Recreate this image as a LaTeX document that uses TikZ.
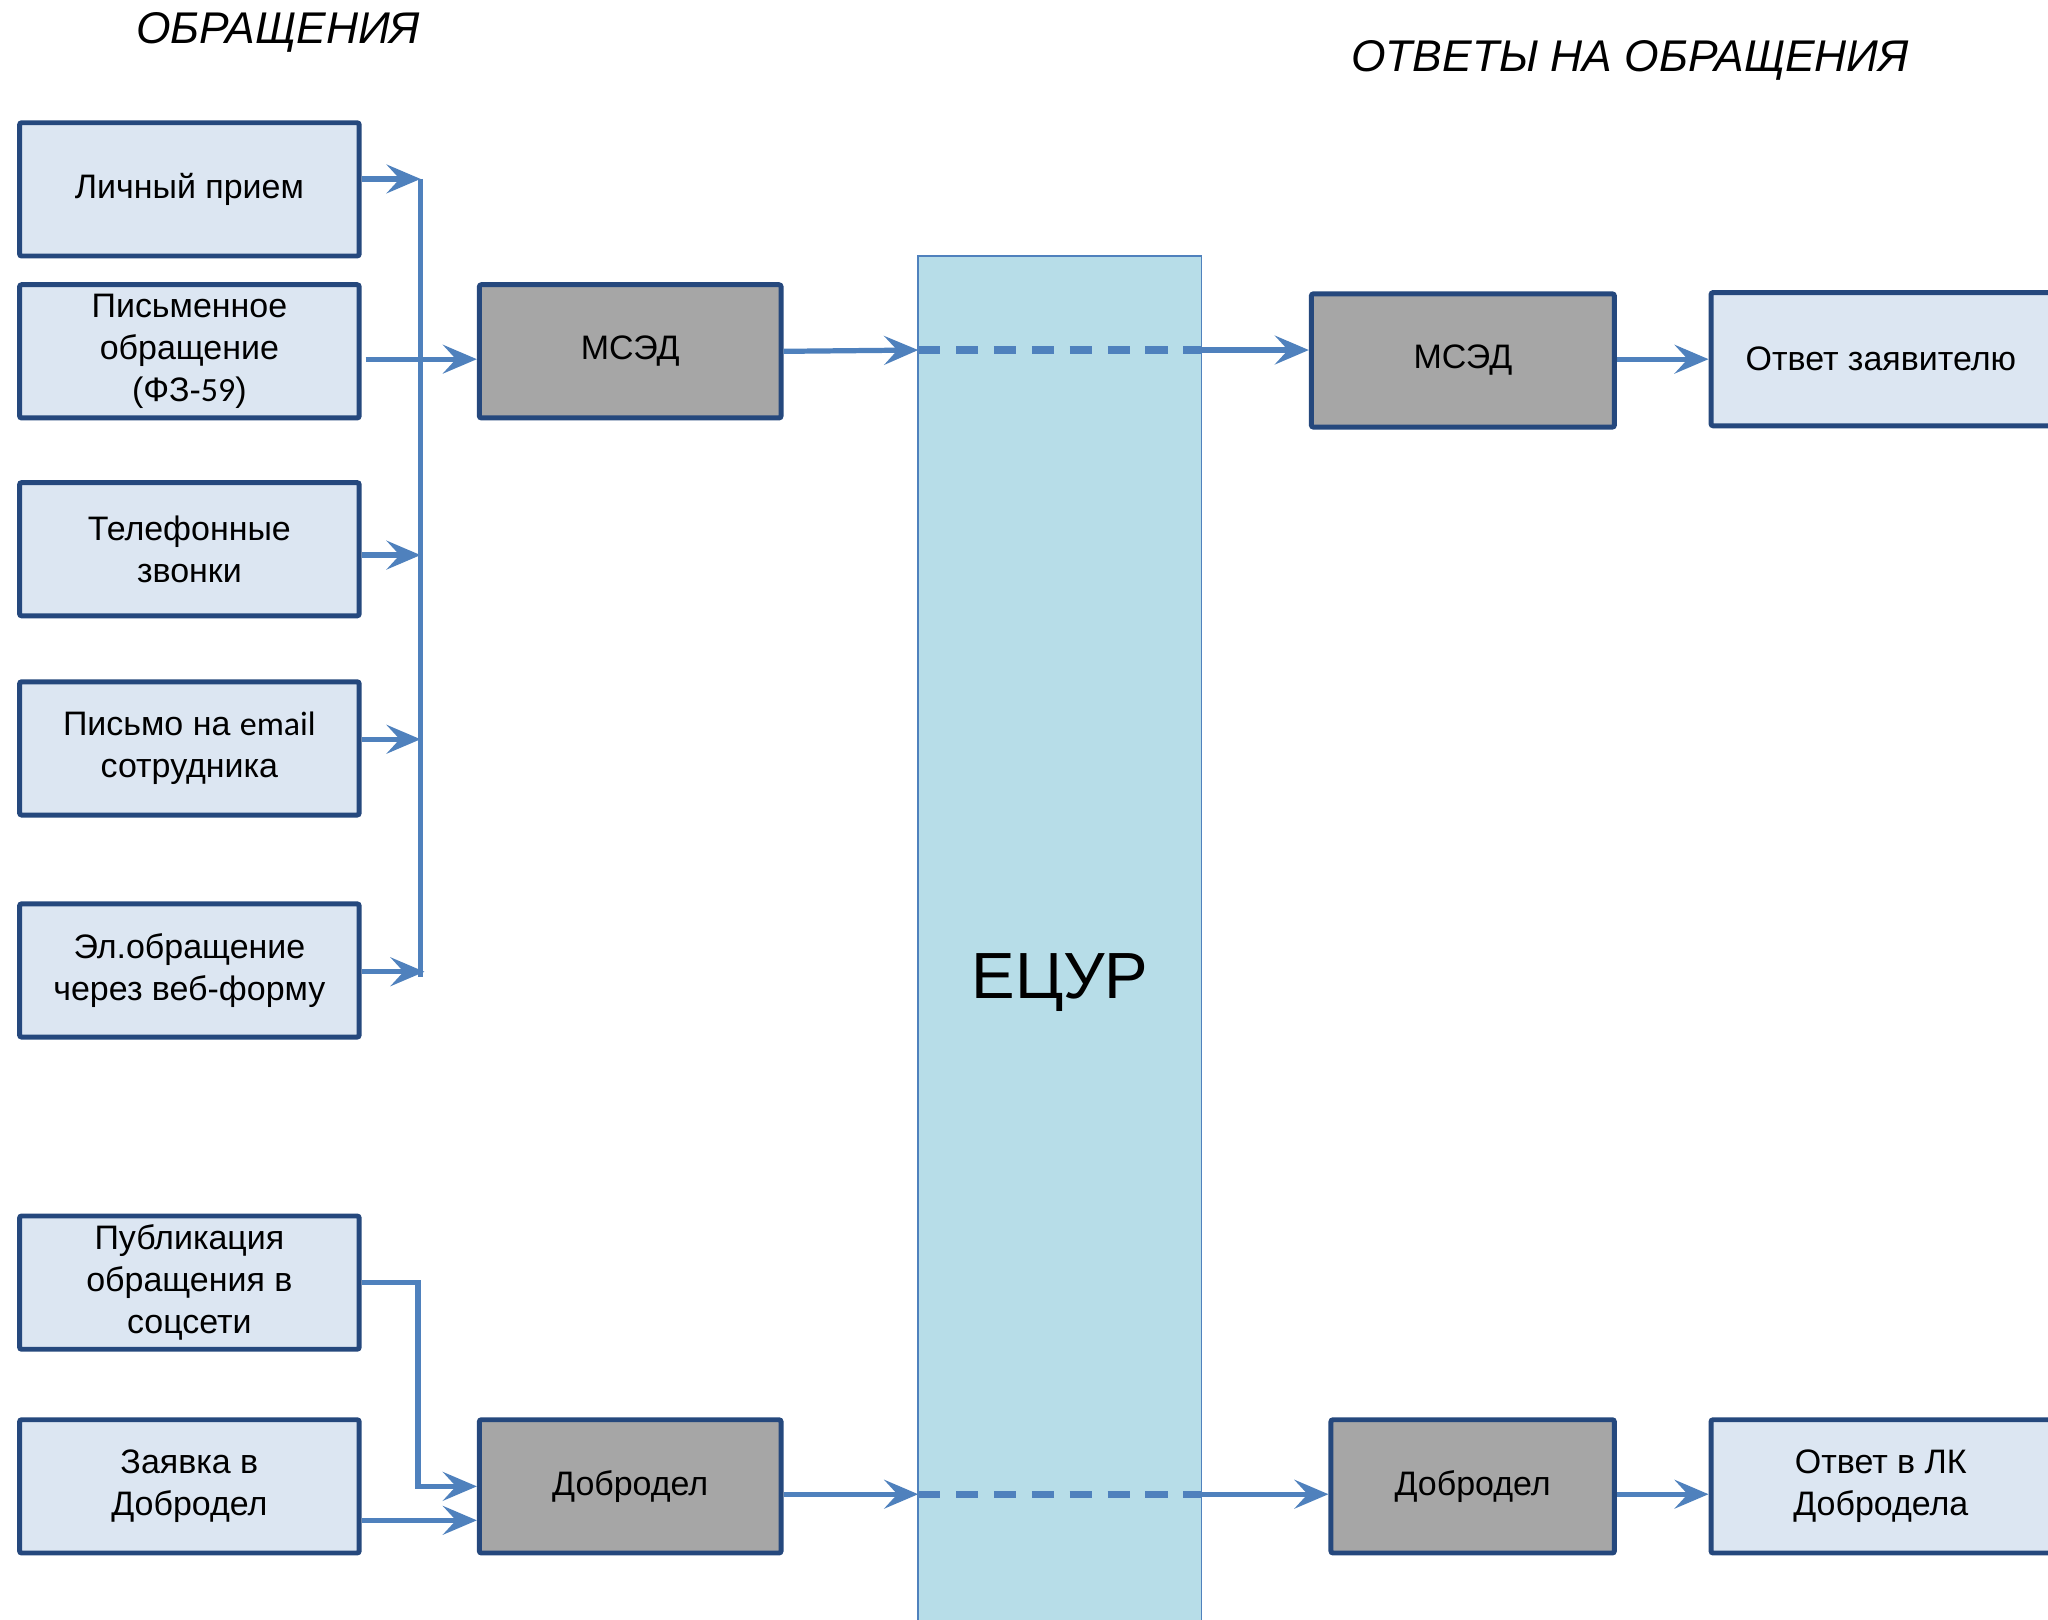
\documentclass[tikz,border=0pt]{standalone}
\usepackage{fontspec}
\setmainfont{Liberation Sans}
\newfontfamily\calfont{Carlito}
\usepackage{tikz}
\usepackage{xcolor}
\usetikzlibrary{arrows.meta}
\tikzset{every picture/.style={line width=0.75pt}}

\definecolor{boxfill}{RGB}{220,230,242}
\definecolor{boxline}{RGB}{37,72,125}
\definecolor{sysfill}{RGB}{166,166,166}
\definecolor{busfill}{RGB}{183,221,232}
\definecolor{flowcol}{RGB}{79,129,189}

\begin{document}
\begin{tikzpicture}[x=0.5pt,y=0.5pt,yscale=-1,xscale=1,
  srcbox/.style={draw=boxline, fill=boxfill, line width=1.9pt, rounded corners=0.8pt,
    minimum width=130pt, minimum height=51pt, align=center, inner sep=2pt,
    font=\fontsize{13}{16}\selectfont},
  sysbox/.style={srcbox, fill=sysfill, minimum width=115.5pt},
  flow/.style={draw=flowcol, line width=2pt,
    -{Stealth[length=13pt,width=11pt,inset=5pt]}},
  flowline/.style={draw=flowcol, line width=1.8pt},
  flowdash/.style={draw=flowcol, line width=2.8pt, dash pattern=on 8.5pt off 6pt},
  title/.style={font=\fontsize{17}{20}\selectfont\itshape}]
\useasboundingbox (0,0) rectangle (1568,1240);

%Shape: Rectangle
\node[draw=flowcol, fill=busfill, line width=0.6pt, minimum width=108.5pt, minimum height=556pt,
  font=\fontsize{25}{30}\selectfont] (ecur) at (811.5,752) {ЕЦУР};

% Text Node
\node[title] (tin) at (213,25) {ОБРАЩЕНИЯ};
% Text Node
\node[title] (tout) at (1248,46) {ОТВЕТЫ НА ОБРАЩЕНИЯ};

%Shape: Rectangle
\node[srcbox] (lp) at (145,145) {Личный прием};
%Shape: Rectangle
\node[srcbox] (pis) at (145,269) {Письменное\\обращение\\(ФЗ-{\calfont 59})};
%Shape: Rectangle
\node[srcbox] (tel) at (145,420.5) {Телефонные\\звонки};
%Shape: Rectangle
\node[srcbox] (eml) at (145,573) {Письмо на {\calfont email}\\сотрудника};
%Shape: Rectangle
\node[srcbox] (web) at (145,743) {Эл.обращение\\через веб-форму};
%Shape: Rectangle
\node[srcbox] (pub) at (145,982) {Публикация\\обращения в\\соцсети};
%Shape: Rectangle
\node[srcbox] (zay) at (145,1138) {Заявка в\\Добродел};

%Shape: Rectangle
\node[sysbox] (msed1) at (482.5,269) {МСЭД};
%Shape: Rectangle
\node[sysbox] (dob1) at (482.5,1138) {Добродел};
%Shape: Rectangle
\node[sysbox, minimum width=116pt] (msed2) at (1120,276) {МСЭД};
%Shape: Rectangle
\node[sysbox, minimum width=108.5pt] (dob2) at (1127.5,1138) {Добродел};
%Shape: Rectangle
\node[srcbox] (otv1) at (1440,275) {Ответ заявителю};
%Shape: Rectangle
\node[srcbox] (otv2) at (1440,1138) {Ответ в ЛК\\Добродела};

% bus and arrow ends
\coordinate (b1) at (322,137);
\coordinate (b3) at (322,425);
\coordinate (b4) at (322,566);
\coordinate (b5) at (325,744);
\coordinate (bend) at (322,748);
\coordinate (in1) at (367,275);
\coordinate (e1) at (703,268);
\coordinate (d1) at (320,1138);
\coordinate (d2) at (367,1164);
\coordinate (e2) at (703,1144);

%Straight Lines
\draw[flowline] (b1) -- (bend);
\draw[flow] (lp.east |- b1) -- (b1);
\draw[flow] (tel.east |- b3) -- (b3);
\draw[flow] (eml.east |- b4) -- (b4);
\draw[flow] (web.east |- b5) -- (b5);
\draw[flow] ([xshift=1.5pt]pis.east |- in1) -- (msed1.west |- in1);

%Straight Lines
\draw[flow] (msed1.east) -- (e1);
\draw[flowdash] (e1) -- (ecur.east |- e1);
\draw[flow] (ecur.east |- e1) -- (msed2.west |- e1);
\draw[flow] (msed2.east |- otv1.west) -- (otv1.west);

%Straight Lines
\draw[flow] (pub.east) -| (d1) -- (dob1.west |- d1);
\draw[flow] (zay.east |- d2) -- (dob1.west |- d2);
\draw[flow] (dob1.east |- e2) -- (e2);
\draw[flowdash] (e2) -- (ecur.east |- e2);
\draw[flow] (ecur.east |- e2) -- (dob2.west |- e2);
\draw[flow] (dob2.east |- e2) -- (otv2.west |- e2);

\end{tikzpicture}
\end{document}
